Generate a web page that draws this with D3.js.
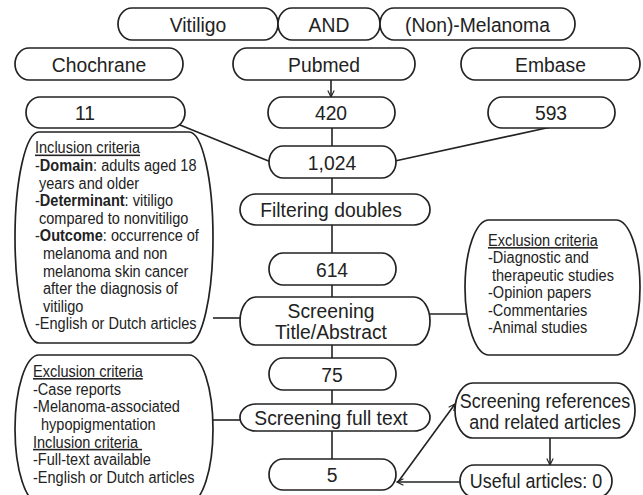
<!DOCTYPE html>
<html>
<head>
<meta charset="utf-8">
<script src="https://cdn.jsdelivr.net/npm/d3@7"></script>
<style>
  body { margin: 0; background: #fff; }
  svg { display: block; }
</style>
</head>
<body>
<div id="chart"></div>
<script>
// ---- content ----
var queryTerms = ["Vitiligo", "AND", "(Non)-Melanoma"];
var databases = ["Chochrane", "Pubmed", "Embase"];
var databaseHits = [11, 420, 593];
var flowCounts = [1024, 614, 75, 5];
var flowSteps = [["Filtering doubles"], ["Screening", "Title/Abstract"], ["Screening full text"]];
var referenceSteps = [["Screening references", "and related articles"], ["Useful articles: 0"]];

// "_x_" = underlined heading, "**x**" = bold, ">" = continuation line
var abstractInclusion = [
    "_Inclusion criteria_",
    "-**Domain**: adults aged 18",
    ">years and older",
    "-**Determinant**: vitiligo",
    ">compared to nonvitiligo",
    "-**Outcome**: occurrence of",
    ">>melanoma and non",
    ">>melanoma skin cancer",
    ">>after the diagnosis of",
    ">>vitiligo",
    "-English or Dutch articles"
];
var abstractExclusion = [
    "_Exclusion criteria_",
    "-Diagnostic and",
    ">therapeutic studies",
    "-Opinion papers",
    "-Commentaries",
    "-Animal studies"
];
var fullTextCriteria = [
    "_Exclusion criteria_",
    "-Case reports",
    "-Melanoma-associated",
    ">>hypopigmentation",
    "_Inclusion criteria _",
    "-Full-text available",
    "-English or Dutch articles"
];

// ---- layout ----
var width = 643, height = 495;
var ink = "#222";
var font = "'Liberation Sans', Arial, sans-serif";
var squeeze = 0.92; // the scan's lettering is a little narrow
var fmt = d3.format(",");

var svg = d3.select("#chart").append("svg")
    .attr("width", width)
    .attr("height", height);

svg.append("defs").append("marker")
    .attr("id", "arrow")
    .attr("viewBox", "0 0 10 10")
    .attr("refX", 9).attr("refY", 5)
    .attr("markerWidth", 8).attr("markerHeight", 8)
    .attr("markerUnits", "userSpaceOnUse")
    .attr("orient", "auto")
    .append("path")
    .attr("d", "M1,1 L9,5 L1,9")
    .attr("fill", "none")
    .attr("stroke", ink)
    .attr("stroke-width", 1.4);

var boxPath = function (x0, y0, x1, y1, rx) {
    var ry = (y1 - y0) / 2;
    var p = d3.path();
    p.moveTo(x0 + rx, y0);
    p.lineTo(x1 - rx, y0);
    p.bezierCurveTo(x1 - rx * 0.45, y0, x1, y0 + ry * 0.45, x1, y0 + ry);
    p.bezierCurveTo(x1, y1 - ry * 0.45, x1 - rx * 0.45, y1, x1 - rx, y1);
    p.lineTo(x0 + rx, y1);
    p.bezierCurveTo(x0 + rx * 0.45, y1, x0, y1 - ry * 0.45, x0, y1 - ry);
    p.bezierCurveTo(x0, y0 + ry * 0.45, x0 + rx * 0.45, y0, x0 + rx, y0);
    p.closePath();
    return p.toString();
};

var drawBox = function (b, rx) {
    svg.append("path")
        .attr("d", boxPath(b[0], b[1], b[2], b[3], rx))
        .attr("fill", "#fff")
        .attr("stroke", ink)
        .attr("stroke-width", 1.7);
};

// centred label, one or more lines
var drawLabel = function (lines, cx, cy, size, lead) {
    var t = svg.append("text")
        .attr("transform", "translate(" + cx + ",0) scale(" + squeeze + ",1)")
        .attr("text-anchor", "middle")
        .attr("font-family", font)
        .attr("font-size", size)
        .attr("fill", ink);
    var y0 = cy - (lines.length - 1) * lead / 2;
    lines.forEach(function (s, i) {
        t.append("tspan")
            .attr("x", 0)
            .attr("y", y0 + i * lead)
            .attr("dy", "0.36em")
            .text(s);
    });
};

var drawCriteria = function (lines, x, y, lead) {
    lines.forEach(function (line, i) {
        var indent = 0;
        while (line.charAt(0) === ">") { indent += 4; line = line.slice(1); }
        var t = svg.append("text")
            .attr("transform", "translate(" + (x + indent) + ",0) scale(" + squeeze + ",1)")
            .attr("x", 0)
            .attr("y", y + i * lead)
            .attr("font-family", font)
            .attr("font-size", 15.8)
            .attr("fill", ink);
        if (line.charAt(0) === "_") {
            t.attr("text-decoration", "underline")
                .style("white-space", "pre")
                .text(line.slice(1, -1));
            return;
        }
        line.split("**").forEach(function (part, k) {
            t.append("tspan")
                .attr("font-weight", k % 2 ? "bold" : null)
                .text(part);
        });
    });
};

var link = function (x1, y1, x2, y2, arrow) {
    svg.append("line")
        .attr("x1", x1).attr("y1", y1)
        .attr("x2", x2).attr("y2", y2)
        .attr("stroke", ink)
        .attr("stroke-width", 1.6)
        .attr("marker-end", arrow ? "url(#arrow)" : null);
};

// ---- connectors (drawn first, boxes cover the ends) ----
var cx = 332;
link(331, 80, 331, 97, true);
link(cx, 128, cx, 146);
link(180, 125, 271, 162);
link(551, 127, 395, 161);
link(cx, 178, cx, 194);
link(cx, 225, cx, 253);
link(cx, 285, cx, 297);
link(cx, 345, cx, 358);
link(cx, 390, cx, 405);
link(cx, 430, cx, 459);
link(213, 318, 240, 318);
link(430, 314, 466, 314);
link(213, 420, 241, 420);
link(550, 438, 550, 465, true);
link(460, 482, 397, 482, true);
link(398, 482, 455, 404, true);

// ---- search terms ----
var queryEdges = [118, 278, 380, 575];
queryTerms.forEach(function (s, i) {
    drawBox([queryEdges[i], 8, queryEdges[i + 1], 40], 14);
    drawLabel([s], (queryEdges[i] + queryEdges[i + 1]) / 2, 24, 21, 21);
});

// ---- databases and hits ----
var dbBoxes = [[15, 183], [233, 415], [461, 640]];
var hitBoxes = [[26, 185], [268, 395], [488, 615]];
var hitTextX = [85, 331, 551];
databases.forEach(function (s, i) {
    drawBox([dbBoxes[i][0], 48, dbBoxes[i][1], 80], 14);
    drawLabel([s], (dbBoxes[i][0] + dbBoxes[i][1]) / 2, 64, 21, 21);
    drawBox([hitBoxes[i][0], 97, hitBoxes[i][1], 128], 14);
    drawLabel([fmt(databaseHits[i])], hitTextX[i], 112.5, 21, 21);
});

// ---- main flow ----
var countY = [[146, 178], [253, 285], [358, 390], [459, 490]];
flowCounts.forEach(function (v, i) {
    drawBox([269, countY[i][0], 396, countY[i][1]], 14);
    drawLabel([fmt(v)], cx, (countY[i][0] + countY[i][1]) / 2, 21, 21);
});
var stepY = [[194, 225], [297, 345], [404, 431]];
flowSteps.forEach(function (lines, i) {
    drawBox([240, stepY[i][0], 430, stepY[i][1]], 16);
    drawLabel(lines, 331, (stepY[i][0] + stepY[i][1]) / 2, 21, 21);
});

// ---- reference screening ----
drawBox([455, 383, 635, 438], 18);
drawLabel(referenceSteps[0], 545, 411, 19.5, 21);
drawBox([460, 465, 612, 497], 14);
drawLabel(referenceSteps[1], 536, 481, 19.5, 21);

// ---- criteria boxes ----
drawBox([15, 132, 213, 343], 24);
drawCriteria(abstractInclusion, 35, 153.5, 17.6);
drawBox([465, 220, 640, 355], 24);
drawCriteria(abstractExclusion, 488, 246, 17.5);
drawBox([15, 355, 213, 503], 24);
drawCriteria(fullTextCriteria, 33, 377, 17.7);
</script>
</body>
</html>
